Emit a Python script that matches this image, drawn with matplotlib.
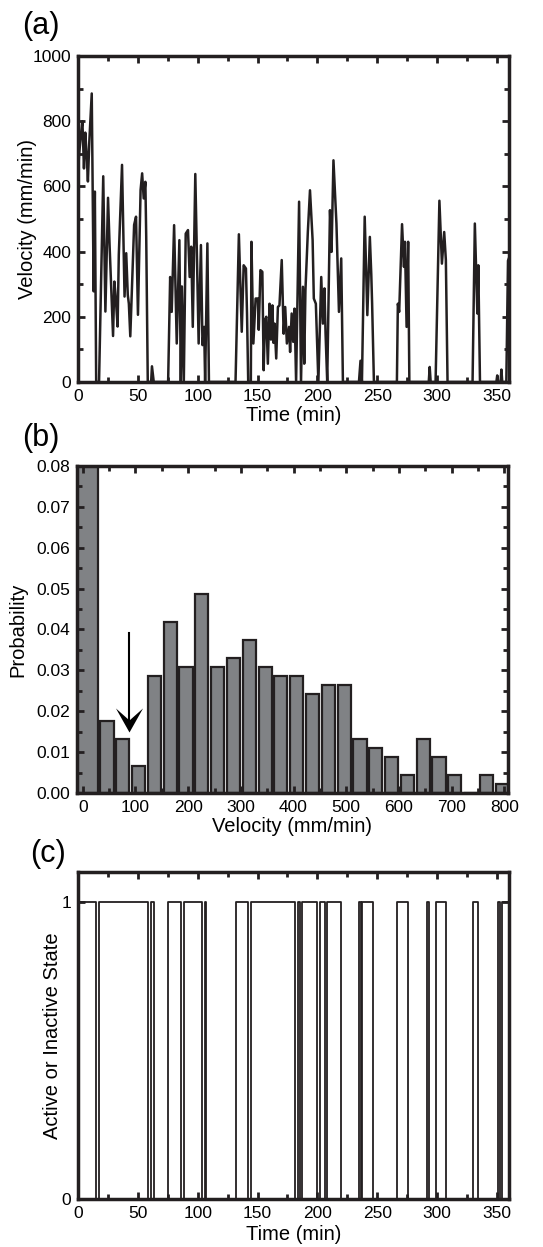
import numpy as np
import matplotlib.pyplot as plt
from matplotlib.path import Path
from matplotlib.ticker import MultipleLocator, FormatStrFormatter

plt.rcParams['font.family'] = ['Liberation Sans', 'DejaVu Sans']
plt.rcParams['font.size'] = 12

# (a) velocity trace (min, mm/min)
time_min = [0, 1, 2.5, 3.7, 5.0, 6.1, 7.2, 8.3, 9.5, 11.5, 13.1, 14.1,
            15.2, 17.6, 21.1, 22.9, 25.1, 26.4, 27.7, 29.3, 30.4, 31.5, 33.1, 34.1,
            36.8, 38.9, 40.3, 41.6, 42.5, 43.7, 46.9, 48.5, 50.1, 52.3, 53.6, 54.9,
            56.3, 57.0, 58.3, 61.1, 61.8, 63.3, 75.3, 77.0, 78.3, 80.3, 82.5, 84.7,
            85.9, 86.8, 88.4, 90.0, 91.9, 93.3, 94.6, 95.9, 98.0, 100.8, 102.7, 104.0,
            105.4, 106.2, 108.1, 109.4, 131.6, 134.4, 136.8, 138.4, 140.3, 141.2, 142.2, 144.4,
            144.9, 146.5, 148.4, 150.3, 151.0, 152.4, 154.0, 155.1, 156.2, 157.3, 158.6, 160.0,
            161.2, 162.4, 163.3, 164.2, 165.6, 167.0, 168.3, 170.2, 171.8, 173.1, 174.5, 176.3,
            177.2, 178.5, 179.8, 180.9, 182.2, 184.7, 186.3, 187.9, 189.0, 190.0, 192.0, 193.8,
            196.0, 197.0, 198.7, 199.5, 200.8, 203.2, 204.6, 205.9, 206.8, 208.2, 210.5, 211.8,
            213.4, 215.9, 218.0, 219.9, 221.3, 234.7, 236.0, 237.2, 239.5, 241.7, 243.8, 245.0,
            245.7, 247.2, 266.4, 267.2, 268.3, 270.7, 272.3, 273.1, 274.5, 275.8, 276.8, 293.0,
            293.8, 294.6, 298.7, 301.9, 304.0, 305.9, 307.3, 308.7, 329.6, 331.5, 333.6, 334.4,
            335.8, 349.5, 350.2, 351.0, 353.0, 353.7, 354.4, 357.8, 359.2, 360]
velocity = [640, 700, 760, 800, 655, 765, 700, 615, 740, 885, 278, 584,
            0, 0, 631, 216, 565, 420, 292, 141, 308, 260, 170, 390,
            666, 262, 395, 267, 240, 140, 482, 507, 206, 589, 640, 563,
            614, 446, 0, 0, 48, 0, 0, 322, 215, 481, 118, 435,
            0, 293, 0, 455, 466, 322, 415, 169, 638, 118, 420, 113,
            169, 0, 425, 0, 0, 453, 154, 358, 348, 210, 0, 0,
            430, 118, 256, 256, 160, 343, 338, 36, 190, 200, 56, 240,
            130, 235, 120, 179, 72, 230, 235, 374, 148, 230, 118, 169,
            92, 210, 123, 225, 0, 553, 0, 292, 56, 281, 460, 588,
            435, 256, 240, 150, 0, 322, 179, 287, 150, 0, 527, 399,
            680, 486, 215, 379, 0, 0, 65, 0, 507, 205, 445, 330,
            240, 0, 0, 240, 215, 484, 353, 430, 169, 430, 0, 0,
            46, 0, 0, 556, 363, 460, 374, 0, 0, 486, 210, 358,
            0, 0, 20, 0, 0, 38, 0, 0, 372, 380]

# (b) velocity histogram
bin_centers = [16, 46, 76, 106, 136, 166, 196, 226, 256, 286, 316, 346, 376, 406,
               436, 466, 496, 526, 556, 586, 616, 646, 676, 706, 736, 766, 796]
probability = [0.475, 0.0177, 0.0132, 0.0066, 0.0287, 0.0419, 0.0309, 0.0486, 0.0309,
               0.0331, 0.0375, 0.0309, 0.0287, 0.0287, 0.0243, 0.0265, 0.0265, 0.0132,
               0.0110, 0.0088, 0.0044, 0.0132, 0.0088, 0.0044, 0.0, 0.0044, 0.0022]
arrow_x = 88
arrow_tail, arrow_tip = 0.0392, 0.0150

# (c) state switches: time of change and level after it
state_times = [0, 15.1, 17.6, 58.3, 61.1, 63.3, 75.3, 85.9, 88.4, 103.7, 105.7, 107.1,
               131.6, 141.9, 144.7, 181.3, 184.0, 185.4, 187.4, 199.9, 202.2, 206.3,
               208.4, 220.0, 234.8, 236.0, 237.6, 246.5, 266.9, 275.8, 291.9, 293.3,
               298.9, 307.5, 329.6, 334.3, 351.0, 352.4, 354.3]
state_level = [1, 0, 1, 0, 1, 0, 1, 0, 1, 0, 1, 0,
               1, 0, 1, 0, 1, 0, 1, 0, 1, 0,
               1, 0, 1, 0, 1, 0, 1, 0, 1, 0,
               1, 0, 1, 0, 1, 0, 1]

ink = '#231f20'

fig = plt.figure(figsize=(5.43, 12.47), dpi=100)
ax_a = fig.add_axes([0.1436, 0.6937, 0.7937, 0.2614])
ax_b = fig.add_axes([0.1418, 0.3641, 0.7937, 0.2622])
ax_c = fig.add_axes([0.1436, 0.0385, 0.7937, 0.2622])


def frame(ax):
    for s in ax.spines.values():
        s.set_linewidth(2.5)
        s.set_color(ink)
    ax.tick_params(which='both', direction='in', top=True, right=True,
                   width=2, color=ink, labelsize=12.5, pad=5)
    ax.tick_params(which='major', length=5)
    ax.tick_params(which='minor', length=3.5)


# (a)
ax_a.plot(time_min, velocity, color=ink, lw=1.8)
ax_a.set_xlim(0, 360)
ax_a.set_ylim(0, 1000)
ax_a.xaxis.set_major_locator(MultipleLocator(50))
ax_a.xaxis.set_minor_locator(MultipleLocator(25))
ax_a.yaxis.set_major_locator(MultipleLocator(200))
ax_a.yaxis.set_minor_locator(MultipleLocator(100))
frame(ax_a)
ax_a.set_xlabel('Time (min)', fontsize=14.5)
ax_a.xaxis.set_label_coords(0.5, -0.075)
ax_a.set_ylabel('Velocity (mm/min)', fontsize=14.5)
ax_a.yaxis.set_label_coords(-0.095, 0.5)

# (b)
bars = ax_b.bar(bin_centers, probability, width=25, color='#808285',
                edgecolor=ink, linewidth=1.6)
ax_b.set_xlim(-11, 807)
ax_b.set_ylim(0, 0.08)
# first bar runs into the left frame
bars[0].set_x(-11)
bars[0].set_width(bin_centers[0] + 12.5 + 11)
ax_b.xaxis.set_major_locator(MultipleLocator(100))
ax_b.xaxis.set_minor_locator(MultipleLocator(50))
ax_b.yaxis.set_major_locator(MultipleLocator(0.01))
ax_b.yaxis.set_minor_locator(MultipleLocator(0.005))
ax_b.yaxis.set_major_formatter(FormatStrFormatter('%.2f'))
frame(ax_b)
ax_b.set_xlabel('Velocity (mm/min)', fontsize=14.5)
ax_b.xaxis.set_label_coords(0.5, -0.072)
ax_b.set_ylabel('Probability', fontsize=14.5)
ax_b.yaxis.set_label_coords(-0.114, 0.5)

# arrow: shaft plus a stealth-shaped head marker whose origin is the tip
head = Path([(0, 0), (-13.5, 24), (0, 12), (13.5, 24), (0, 0)],
            [Path.MOVETO, Path.LINETO, Path.LINETO, Path.LINETO, Path.CLOSEPOLY])
ax_b.plot([arrow_x, arrow_x], [arrow_tail, arrow_tip + 0.002], color='black', lw=1.5)
ax_b.plot([arrow_x], [arrow_tip], marker=head, markersize=34.6, color='black',
          markeredgewidth=0, linestyle='none')

# (c)
ax_c.step(state_times + [360], state_level + [state_level[-1]], where='post',
          color=ink, lw=1.3)
ax_c.set_xlim(0, 360)
ax_c.set_ylim(0, 1.1)
ax_c.set_yticks([0, 1])
ax_c.xaxis.set_major_locator(MultipleLocator(50))
ax_c.xaxis.set_minor_locator(MultipleLocator(25))
frame(ax_c)
ax_c.set_xlabel('Time (min)', fontsize=14.5)
ax_c.xaxis.set_label_coords(0.5, -0.08)
ax_c.set_ylabel('Active or Inactive State', fontsize=14.5)
ax_c.yaxis.set_label_coords(-0.037, 0.5)

fig.text(0.04, 0.979, '(a)', fontsize=22, ha='left', va='center')
fig.text(0.04, 0.649, '(b)', fontsize=22, ha='left', va='center')
fig.text(0.055, 0.315, '(c)', fontsize=22, ha='left', va='center')

fig.savefig('out.png', dpi=100)
